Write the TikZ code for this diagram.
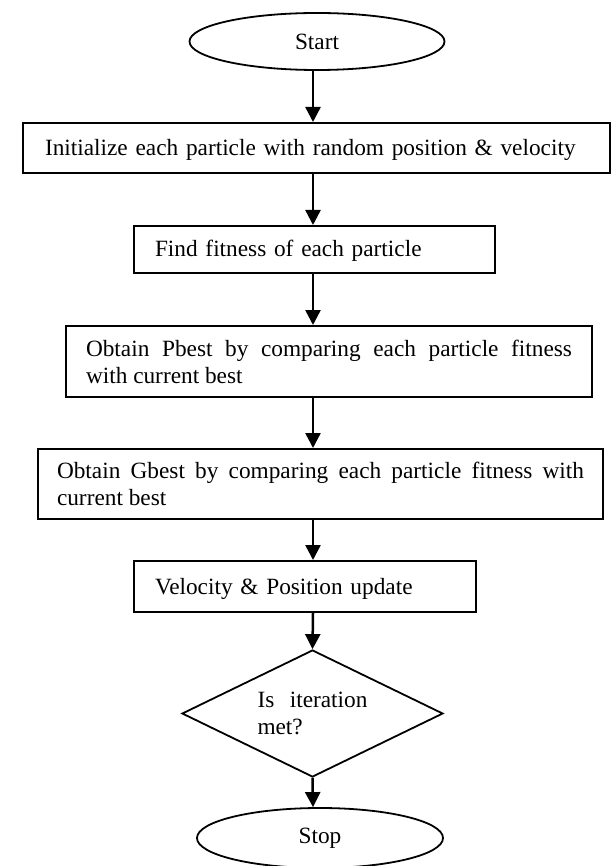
\documentclass[tikz,border=0pt]{standalone}
\usepackage{fontspec}
\setmainfont{Liberation Serif}
\usetikzlibrary{shapes.geometric,arrows.meta}
\setlength{\parindent}{0pt}
\hyphenpenalty=10000
\exhyphenpenalty=10000
\begin{document}
\begin{tikzpicture}[x=1pt,y=-1pt,
  every node/.style={font=\fontsize{23.3}{27}\selectfont, inner sep=0pt},
  oval/.style={draw, ellipse, line width=1.8pt},
  boxone/.style={draw, rectangle, line width=2pt, align=left, text height=17pt, text depth=2pt},
  boxtwo/.style={draw, rectangle, line width=2pt, align=justify},
  decide/.style={draw, diamond, line width=1.8pt, align=justify, aspect=2.06},
  arr/.style={line width=2.5pt, -{Triangle[length=15pt,width=15pt]}}
]
\useasboundingbox (0,0) rectangle (611,866);
\coordinate (ax) at (313,0);

\node[oval, minimum width=255pt, minimum height=57pt] (start) at (317,41.5) {Start};
\node[boxone, minimum width=587pt, minimum height=50pt, text width=543pt] (b1) at (316.5,148)
  {Initialize each particle with random position \& velocity};
\node[boxone, minimum width=361pt, minimum height=47pt, text width=319pt] (b2) at (314.5,249.5)
  {Find fitness of each particle};
\node[boxtwo, minimum width=526pt, minimum height=71pt, text width=486pt] (b3) at (329,361.5)
  {Obtain Pbest by comparing each particle fitness\linebreak with current best};
\node[boxtwo, minimum width=565pt, minimum height=70pt, text width=527pt] (b4) at (320.5,484)
  {Obtain Gbest by comparing each particle fitness with\linebreak current best};
\node[boxone, minimum width=342pt, minimum height=51pt, text width=300pt] (b5) at (305,586.5)
  {Velocity \& Position update};
\node[decide, minimum width=261pt, minimum height=127pt, text width=110pt] (dec) at (312.5,713.5)
  {Is iteration\linebreak met?};
\node[oval, minimum width=246pt, minimum height=60pt] (stop) at (320,838) {Stop};

\draw[arr] (start.south -| ax) -- (b1.north -| ax);
\draw[arr] (b1.south -| ax) -- (b2.north -| ax);
\draw[arr] (b2.south -| ax) -- (b3.north -| ax);
\draw[arr] (b3.south -| ax) -- (b4.north -| ax);
\draw[arr] (b4.south -| ax) -- (b5.north -| ax);
\draw[arr] (b5.south -| ax) -- (dec.north);
\draw[arr] (dec.south) -- (stop.north -| ax);
\end{tikzpicture}
\end{document}
